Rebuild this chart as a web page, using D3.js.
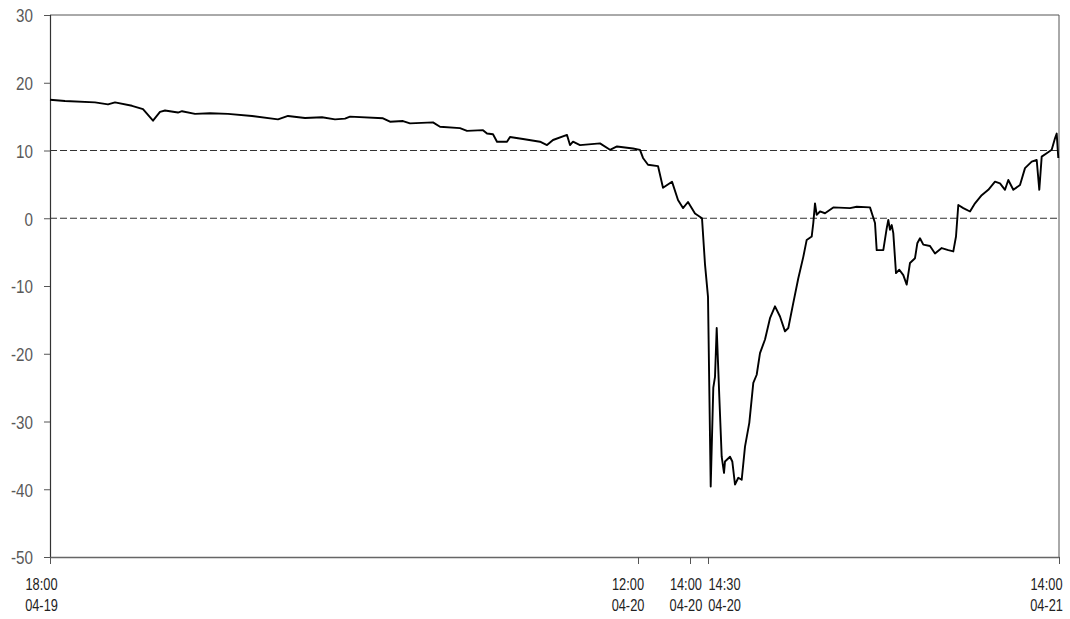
<!DOCTYPE html>
<html>
<head>
<meta charset="utf-8">
<script src="https://cdn.jsdelivr.net/npm/d3@7"></script>
<style>
  html, body { margin: 0; padding: 0; background: #fff; }
  svg { display: block; }
</style>
</head>
<body>
<svg id="chart" width="1070" height="619"></svg>
<script>
// ---- DATA ----
// sample index along the (non-linear in time) x axis
const sampleIndex = [
  0, 15, 45, 58, 65, 82, 93, 103, 110, 115, 128, 132, 145, 160, 178, 202, 228, 238, 255, 272,
  285, 295, 300, 333, 340, 353, 360, 383, 390, 410, 417, 433, 437, 443, 447, 457, 460, 473, 490, 497,
  503, 517, 520, 523, 530, 550, 560, 567, 583, 590, 593, 598, 608, 613, 622, 628, 633, 638, 645, 652,
  655, 658, 660.7, 663.3, 665, 666.7, 669.3, 671.7, 674, 675, 680, 682.3, 685, 688.3, 691.7, 695, 699.3, 703.3, 706.7, 710,
  715, 720, 725, 730, 735, 738.3, 743.3, 748.3, 753.3, 756.7, 761.7, 763.3, 765, 766.7, 770, 775, 783.3, 800, 806.7, 820,
  825, 826.7, 833.3, 836.7, 838.3, 840, 841.7, 843.3, 846, 849.3, 853.3, 856.7, 860, 865, 867.3, 870, 873.3, 880, 885, 891.7,
  898.3, 903.3, 906, 908.3, 913.3, 920, 925, 931.7, 938.3, 945, 950, 955, 958.3, 963.3, 970, 975, 981.7, 986.7, 989.3, 991.7,
  996.7, 1001.7, 1005, 1006.7, 1008.3
];
const seriesValues = [
  17.5, 17.3, 17.1, 16.8, 17.1, 16.6, 16.1, 14.4, 15.7, 15.9, 15.6, 15.8, 15.4, 15.5, 15.4, 15.1, 14.6, 15.1, 14.8, 14.9,
  14.6, 14.7, 15.0, 14.75, 14.25, 14.35, 14.0, 14.15, 13.5, 13.3, 12.9, 13.0, 12.5, 12.4, 11.3, 11.3, 12.0, 11.7, 11.3, 10.8,
  11.55, 12.3, 10.8, 11.3, 10.8, 11.05, 10.1, 10.6, 10.3, 10.1, 8.9, 7.9, 7.7, 4.5, 5.4, 2.7, 1.5, 2.4, 0.7, 0.0,
  -6.8, -11.6, -39.6, -25.0, -23.4, -16.2, -26.3, -35.2, -37.6, -35.9, -35.2, -35.9, -39.3, -38.3, -38.6, -33.7, -30.2, -24.3, -23.1, -19.9,
  -17.9, -14.75, -13.0, -14.5, -16.7, -16.2, -12.5, -8.85, -5.7, -3.2, -2.7, -0.7, 2.2, 0.5, 1.0, 0.74, 1.6, 1.5, 1.7, 1.6,
  -0.7, -4.7, -4.7, -1.5, -0.25, -1.7, -1.0, -2.2, -8.1, -7.6, -8.4, -9.8, -6.6, -5.9, -3.7, -2.95, -3.9, -4.1, -5.2, -4.4,
  -4.7, -4.9, -2.7, 1.96, 1.5, 1.0, 2.2, 3.4, 4.2, 5.4, 5.15, 4.2, 5.65, 4.2, 4.9, 7.4, 8.35, 8.6, 4.2, 9.1,
  9.6, 10.1, 11.8, 12.5, 8.9
];
const referenceLevels = [10, 0];
const yTicks = [30, 20, 10, 0, -10, -20, -30, -40, -50];
const xTickIndex = [0, 588, 640, 658, 1009];
const xTickTime = ["18:00", "12:00", "14:00", "14:30", "14:00"];
const xTickDate = ["04-19", "04-20", "04-20", "04-20", "04-21"];

// ---- LAYOUT / STYLE ----
const margin = { left: 50, right: 11, top: 15, bottom: 62 };
const W = 1070, H = 619;
const labelShift = [-9, -10.5, -4.6, 16, -13];  // label centre offsets from their ticks
const font = "'Liberation Sans', Arial, sans-serif";
const squeeze = 0.8;  // narrow the glyphs horizontally

const svg = d3.select("#chart");
const x = d3.scaleLinear().domain([0, 1009]).range([margin.left, W - margin.right]);
const y = d3.scaleLinear().domain([-50, 30]).range([H - margin.bottom, margin.top]);

const data = sampleIndex.map((d, i) => ({ i: d, v: seriesValues[i] }));

// frame (top and right)
svg.append("line").attr("x1", x(0)).attr("x2", x(1009)).attr("y1", y(30)).attr("y2", y(30))
  .attr("stroke", "#555").attr("stroke-width", 1);
svg.append("line").attr("x1", x(1009)).attr("x2", x(1009)).attr("y1", y(30)).attr("y2", y(-50))
  .attr("stroke", "#555").attr("stroke-width", 1);

// dashed reference lines
svg.selectAll("line.ref").data(referenceLevels).join("line").attr("class", "ref")
  .attr("x1", x(0)).attr("x2", x(1009))
  .attr("y1", d => y(d)).attr("y2", d => y(d))
  .attr("stroke", "#333").attr("stroke-width", 1.2).attr("stroke-dasharray", "7,3");

// y axis
const yAxis = svg.append("g").attr("transform", `translate(${margin.left},0)`)
  .call(d3.axisLeft(y).tickValues(yTicks).tickFormat("").tickSize(6));
yAxis.select(".domain").attr("stroke", "#333").attr("stroke-width", 1.2);
yAxis.selectAll(".tick line").attr("stroke", "#555");
yAxis.selectAll(".tick text").remove();
yAxis.selectAll(".tick").append("text")
  .attr("transform", `translate(-17,0) scale(${squeeze},1)`)
  .attr("text-anchor", "end").attr("dy", "0.36em")
  .attr("fill", "#595959").style("font-family", font).style("font-size", "19px")
  .text(d => String(d));

// x axis
const xAxis = svg.append("g").attr("transform", `translate(0,${H - margin.bottom})`)
  .call(d3.axisBottom(x).tickValues(xTickIndex).tickFormat("").tickSize(7).tickSizeOuter(0));
xAxis.select(".domain").attr("stroke", "#666").attr("stroke-width", 1.6);
xAxis.selectAll(".tick line").attr("stroke", "#555");
xAxis.selectAll(".tick text").remove();
xAxis.selectAll(".tick").each(function (d, k) {
  const t = d3.select(this).append("text")
    .attr("transform", `translate(${labelShift[k]},0) scale(${squeeze},1)`)
    .attr("fill", "#222").attr("text-anchor", "middle")
    .style("font-family", font).style("font-size", "16px");
  t.append("tspan").attr("x", 0).attr("y", 33).text(xTickTime[k]);
  t.append("tspan").attr("x", 0).attr("y", 54).text(xTickDate[k]);
});

// series line
svg.append("path").datum(data)
  .attr("fill", "none").attr("stroke", "#000").attr("stroke-width", 1.9)
  .attr("stroke-linejoin", "round")
  .attr("d", d3.line().x(d => x(d.i)).y(d => y(d.v)));
</script>
</body>
</html>
